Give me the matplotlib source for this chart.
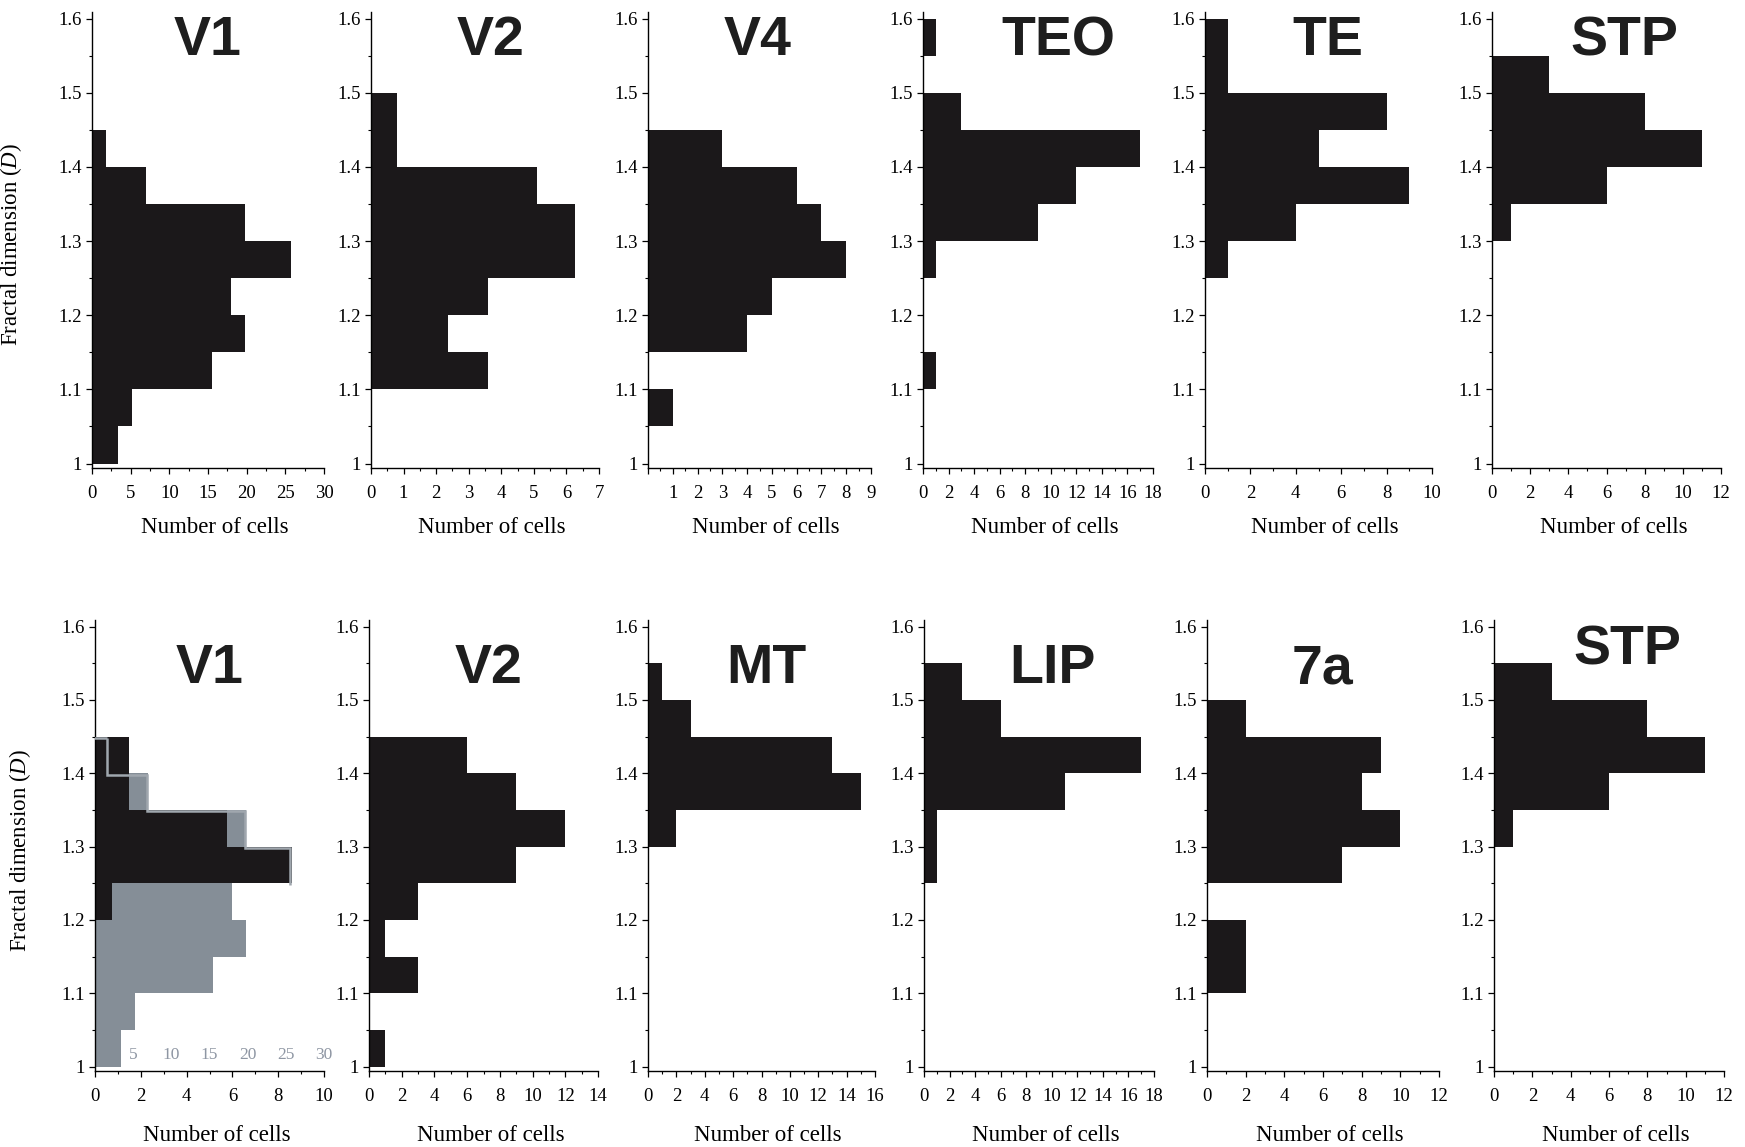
import matplotlib
matplotlib.use("Agg")
import matplotlib.pyplot as plt
import matplotlib.transforms as mtransforms
import numpy as np

plt.rcParams["font.family"] = ["Liberation Serif", "DejaVu Serif"]
plt.rcParams["mathtext.fontset"] = "custom"
plt.rcParams["mathtext.it"] = "Liberation Serif:italic"
plt.rcParams["mathtext.rm"] = "Liberation Serif"

# fractal dimension bins (edges, width 0.05)
bin_edges = [1.00, 1.05, 1.10, 1.15, 1.20, 1.25, 1.30, 1.35, 1.40, 1.45, 1.50, 1.55, 1.60]

# top row
v1_top = [3.4, 5.2, 15.5, 19.8, 18.0, 25.7, 19.8, 7.0, 1.8, 0, 0, 0]
v2_top = [0, 0, 3.6, 2.35, 3.6, 6.25, 6.25, 5.1, 0.8, 0.8, 0, 0]
v4 = [0, 1, 0, 4, 5, 8, 7, 6, 3, 0, 0, 0]
teo = [0, 0, 1, 0, 0, 1, 9, 12, 17, 3, 0, 1]
te = [0, 0, 0, 0, 0, 1, 4, 9, 5, 8, 1, 1]
stp_top = [0, 0, 0, 0, 0, 0, 1, 6, 11, 8, 3, 0]

# bottom row
v1_bot = [0, 0, 0, 0, 0.75, 8.6, 5.75, 1.5, 1.5, 0, 0, 0]
v2_bot = [1, 0, 3, 1, 3, 9, 12, 9, 6, 0, 0, 0]
mt = [0, 0, 0, 0, 0, 0, 2, 15, 13, 3, 1, 0]
lip = [0, 0, 0, 0, 0, 1, 1, 11, 17, 6, 3, 0]
a7 = [0, 0, 2, 2, 0, 7, 10, 8, 9, 2, 0, 0]
stp_bot = [0, 0, 0, 0, 0, 0, 1, 6, 11, 8, 3, 0]

top_names = ["V1", "V2", "V4", "TEO", "TE", "STP"]
bot_names = ["V1", "V2", "MT", "LIP", "7a", "STP"]
top_data = [v1_top, v2_top, v4, teo, te, stp_top]
bot_data = [v1_bot, v2_bot, mt, lip, a7, stp_bot]
top_xmax = [30, 7, 9, 18, 10, 12]
bot_xmax = [10, 14, 16, 18, 12, 12]
top_xstep = [5, 1, 1, 2, 2, 2]
bot_xstep = [2, 2, 2, 2, 2, 2]

# grey overlay scale on bottom V1 (top-row V1 counts, 0-30)
grey_ticks = [5, 10, 15, 20, 25, 30]
grey_max = 30

W, H = 1745, 1147
fig = plt.figure(figsize=(W / 100, H / 100), dpi=100)

top_x = [(92, 324), (371, 599), (648, 871), (923, 1153), (1205, 1432), (1492, 1721)]
bot_x = [(95, 324), (369, 598), (648, 875), (924, 1154), (1207, 1439), (1494, 1724)]
top_rows = (12, 468)
bot_rows = (620, 1071)
top_title_x = [0.5, 0.526, 0.49, 0.588, 0.54, 0.58]
bot_title_x = [0.5, 0.52, 0.52, 0.56, 0.5, 0.58]
top_title_y = [0.993] * 6
bot_title_y = [0.949, 0.949, 0.949, 0.949, 0.949, 0.99]

black = "#1b181a"
grey_fill = "#858e97"
grey_line = "#a0a7ae"
grey_text = "#8e96a3"

bin_lo = bin_edges[:-1]


def make_panel(xs, rows, name, vals, xmax, xstep, tx, ty):
    x0, x1 = xs
    ytop, ybot = rows
    ax = fig.add_axes([x0 / W, 1 - ybot / H, (x1 - x0) / W, (ybot - ytop) / H])
    ax.barh(bin_lo, vals, height=0.05, align="edge", color=black, linewidth=0, zorder=2)
    ax.set_xlim(0, xmax)
    ax.set_ylim(0.994, 1.609)
    for s in ["top", "right"]:
        ax.spines[s].set_visible(False)
    for s in ["left", "bottom"]:
        ax.spines[s].set_linewidth(1.0)
    ax.set_yticks([1.0, 1.1, 1.2, 1.3, 1.4, 1.5, 1.6])
    ax.set_yticklabels(["1", "1.1", "1.2", "1.3", "1.4", "1.5", "1.6"])
    ax.set_yticks([1.05, 1.15, 1.25, 1.35, 1.45, 1.55], minor=True)
    xt = np.arange(0, xmax + 0.001, xstep)
    ax.set_xticks(xt)
    labels = ["%g" % v for v in xt]
    if name == "V4":
        labels[0] = ""
    ax.set_xticklabels(labels)
    ax.set_xticks(np.arange(xstep / 2, xmax, xstep), minor=True)
    ax.tick_params(which="major", direction="out", length=4, width=0.9,
                   labelsize=13.5, pad=3)
    ax.tick_params(which="minor", direction="out", length=2.5, width=0.8)
    ax.tick_params(axis="x", which="major", pad=8)
    ax.set_xlabel("Number of cells", fontsize=16.5)
    ax.xaxis.label.set_va("center")
    ax.text(tx, ty, name, transform=ax.transAxes, ha="center", va="top",
            fontsize=40, fontweight="bold", family="Liberation Sans", color="#1e1e1e")
    return ax


axes_top = []
for i in range(6):
    ax = make_panel(top_x[i], top_rows, top_names[i], top_data[i], top_xmax[i],
                    top_xstep[i], top_title_x[i], top_title_y[i])
    ax.xaxis.set_label_coords(0.53, -0.13)
    axes_top.append(ax)

axes_bot = []
for i in range(6):
    ax = make_panel(bot_x[i], bot_rows, bot_names[i], bot_data[i], bot_xmax[i],
                    bot_xstep[i], bot_title_x[i], bot_title_y[i])
    ax.xaxis.set_label_coords(0.53, -0.142)
    axes_bot.append(ax)

ylab = "Fractal dimension ($\\mathit{D}$)"
axes_top[0].set_ylabel(ylab, fontsize=16.5)
axes_top[0].yaxis.set_label_coords(-0.293, 0.49)
axes_bot[0].set_ylabel(ylab, fontsize=16.5)
axes_bot[0].yaxis.set_label_coords(-0.27, 0.488)

# grey overlay of top-row V1 on the bottom-left panel
ax = axes_bot[0]
scale = bot_xmax[0] / grey_max
grey_vals = np.array(v1_top) * scale
ax.stairs(grey_vals, bin_edges, orientation="horizontal", fill=True,
          color=grey_fill, linewidth=0, zorder=1)
# outline of the grey histogram where the black bars cover it (1.25-1.45)
inset = mtransforms.offset_copy(ax.transData, fig=fig, x=-1.5, y=-1.5, units="dots")
ax.stairs(grey_vals[5:9], bin_edges[5:10], orientation="horizontal",
          fill=False, color=grey_line, linewidth=1.8, baseline=None,
          transform=inset, zorder=3)
ax.hlines(bin_edges[9], 0, grey_vals[8], color=grey_line, linewidth=1.8,
          transform=inset, zorder=3)
for g in grey_ticks:
    ax.text(g * scale, 1.016, str(g), color=grey_text, fontsize=12.5,
            ha="center", va="center", zorder=4)

fig.savefig("out.png", dpi=100)
